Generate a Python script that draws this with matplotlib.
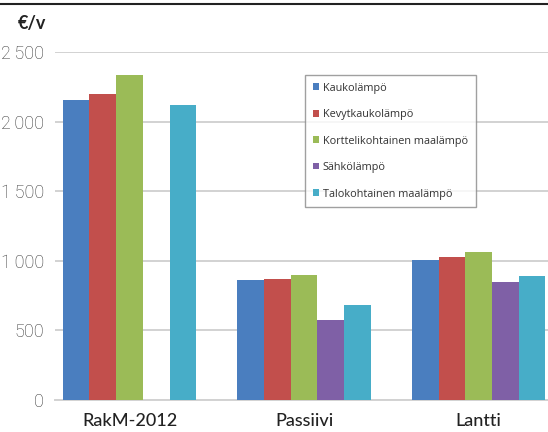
import matplotlib
matplotlib.use("Agg")
import matplotlib.pyplot as plt
from matplotlib.lines import Line2D
import numpy as np

# Annual heating cost (€/v) per building type and heating system
categories = ["RakM-2012", "Passiivi", "Lantti"]
series_names = [
    "Kaukolämpö",
    "Kevytkaukolämpö",
    "Korttelikohtainen maalämpö",
    "Sähkölämpö",
    "Talokohtainen maalämpö",
]
kaukolampo = [2155, 862, 1006]
kevytkaukolampo = [2196, 869, 1030]
kortteli_maalampo = [2335, 898, 1066]
sahkolampo = [0, 575, 850]
talo_maalampo = [2119, 682, 891]
series_values = [kaukolampo, kevytkaukolampo, kortteli_maalampo, sahkolampo, talo_maalampo]
colors = ["#4a7ebf", "#c24f4c", "#9bbb57", "#7f60a6", "#47adc8"]

yticks = [0, 500, 1000, 1500, 2000, 2500]
ytick_labels = ["0", "500", "1\u2009000", "1\u2009500", "2\u2009000", "2\u2009500"]

W, H = 548, 432
fig = plt.figure(figsize=(W / 100, H / 100), dpi=100)
ax = fig.add_axes([55 / W, (H - 400) / H, (W - 55) / W, 348 / H])

x = np.arange(len(categories))
bar_w = 0.153
n = len(series_values)
for i, (vals, col) in enumerate(zip(series_values, colors)):
    offset = (i - (n - 1) / 2) * bar_w
    ax.bar(x + offset, vals, bar_w, color=col, edgecolor="none", zorder=3, label=series_names[i])

ax.set_xlim(-0.427, 2.397)
ax.set_ylim(0, 2500)
ax.set_yticks(yticks)
ax.set_yticklabels(ytick_labels, fontsize=13, color="#383838", family="Roboto", fontweight="light")
ax.set_xticks(x)
ax.set_xticklabels(categories, fontsize=13, color="#222222", family="Lato", fontweight="medium")
ax.tick_params(axis="y", length=0, pad=8)
ax.tick_params(axis="x", length=0, pad=9)
ax.yaxis.grid(True, color="#d2d2d2", linewidth=1.4, zorder=0)
ax.set_axisbelow(True)
for s in ["top", "right", "left"]:
    ax.spines[s].set_visible(False)
ax.spines["bottom"].set_color("#d2d2d2")
ax.spines["bottom"].set_linewidth(1.4)

# unit label and rule at the top
fig.text(46 / W, 1 - 23 / H, "€/v", ha="right", va="center", fontsize=13,
         fontweight="bold", color="#222222", family="Lato")
fig.add_artist(Line2D([0, 1], [1 - 4 / H, 1 - 4 / H], color="#222222", linewidth=1.5))

leg = ax.legend(loc="upper left", bbox_to_anchor=((305 - 55) / (W - 55), (400 - 75) / 348),
                fontsize=7.8, frameon=True, fancybox=False, edgecolor="#888888",
                handlelength=0.55, handleheight=0.55, handletextpad=0.4,
                labelspacing=1.43, borderpad=0.7, borderaxespad=0)
leg.get_frame().set_linewidth(1.0)
for t in leg.get_texts():
    t.set_color("#333333")
    t.set_family("Open Sans")
leg.set_zorder(5)

fig.savefig("out.png", dpi=100)
